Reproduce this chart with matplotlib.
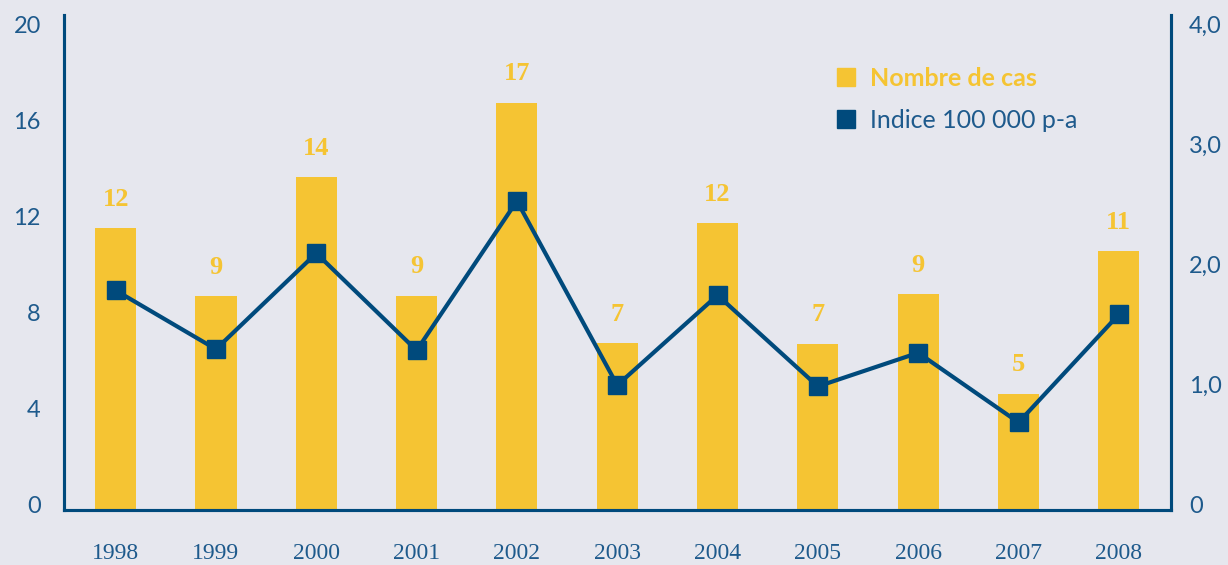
import matplotlib
matplotlib.use("Agg")
import matplotlib.pyplot as plt
from matplotlib.lines import Line2D
from matplotlib.transforms import ScaledTranslation

years = ["1998", "1999", "2000", "2001", "2002", "2003", "2004", "2005", "2006", "2007", "2008"]
cases = [11.76, 8.92, 13.88, 8.93, 16.97, 6.97, 11.96, 6.93, 9.01, 4.85, 10.8]
case_labels = ["12", "9", "14", "9", "17", "7", "12", "7", "9", "5", "11"]
index_vals = [1.83, 1.34, 2.14, 1.33, 2.575, 1.04, 1.79, 1.03, 1.31, 0.73, 1.63]
left_ticks = [0, 4, 8, 12, 16, 20]
right_ticks = [0, 1, 2, 3, 4]
right_tick_labels = ["0", "1,0", "2,0", "3,0", "4,0"]

BG = "#E6E7EE"
YELLOW = "#F5C433"
NAVY = "#004A7C"
TXT = "#1E5A8C"

fig = plt.figure(figsize=(12.28, 5.65), dpi=100, facecolor=BG)
ax = fig.add_axes([0.0525, 0.0973, 0.9011, 0.8762], facecolor=BG)
ax2 = ax.twinx()

x = list(range(len(years)))
ax.bar(x, cases, width=0.41, color=YELLOW, zorder=2)
for xi, v, lab in zip(x, cases, case_labels):
    ax.annotate(lab, (xi, v), xytext=(0, 16), textcoords="offset points",
                ha="center", va="baseline", color=YELLOW, fontsize=19,
                fontweight="bold", family="Liberation Serif")

ax2.plot(x, index_vals, color=NAVY, lw=3, marker="s", markersize=12.5,
         markerfacecolor=NAVY, markeredgecolor=NAVY, zorder=3)

ax.set_xlim(-0.51, 10.52)
ax.set_ylim(0, 20.625)
ax2.set_ylim(0, 4.125)

ax.set_yticks(left_ticks)
ax.set_yticklabels([str(t) for t in left_ticks])
ax2.set_yticks(right_ticks)
ax2.set_yticklabels(right_tick_labels)
ax.set_xticks(x)
ax.set_xticklabels(years, family="Liberation Serif", fontsize=17)

ax.tick_params(axis="y", length=0, pad=17, labelsize=17, labelcolor=TXT)
ax2.tick_params(axis="y", length=0, pad=13, labelsize=17, labelcolor=TXT)
ax.tick_params(axis="x", length=0, pad=24, labelcolor=TXT)
up = ScaledTranslation(0, 4 / 72, fig.dpi_scale_trans)
for t in ax.get_yticklabels() + ax2.get_yticklabels():
    t.set_family("Lato")
    t.set_transform(t.get_transform() + up)

for a in (ax, ax2):
    a.spines["top"].set_visible(False)
    for s in ("left", "right", "bottom"):
        a.spines[s].set_color(NAVY)
        a.spines[s].set_linewidth(2.2)
ax2.set_zorder(ax.zorder + 1)
ax2.patch.set_visible(False)

handles = [Line2D([], [], ls="none", marker="s", markersize=12.5, color=YELLOW),
           Line2D([], [], ls="none", marker="s", markersize=12.5, color=NAVY)]
leg = ax2.legend(handles, ["Nombre de cas", "Indice 100 000 p-a"],
                 loc="upper left", bbox_to_anchor=(0.677, 0.94), frameon=False,
                 handlelength=0.8, handletextpad=0.55, labelspacing=0.75,
                 prop={"family": "Lato", "size": 18})
txts = leg.get_texts()
txts[0].set_color(YELLOW)
txts[0].set_fontweight("bold")
txts[1].set_color(TXT)

fig.savefig("out.png", dpi=100, facecolor=BG)
